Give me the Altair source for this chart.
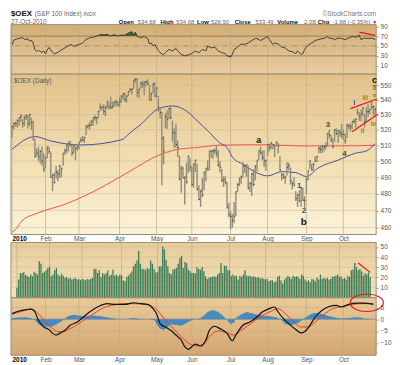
import altair as alt
import pandas as pd

W = 369
H_HEAD, H_RSI, H_PRICE, H_STRIP, H_VOL, H_MACD = 15, 50, 162, 8, 56, 58
FONT = "Liberation Sans"
LBL = "#555555"

holidays = ["2010-01-18", "2010-02-15", "2010-04-02", "2010-05-31", "2010-07-05", "2010-09-06"]
month_labels = ["2010", "Feb", "Mar", "Apr", "May", "Jun", "Jul", "Aug", "Sep", "Oct"]

high = [523, 525, 525.5, 527, 528, 530.5, 527, 529.5, 530.5, 530, 530.5, 528, 526, 514, 508, 509, 507, 509, 505,
        503, 509.5, 509, 505.5, 492, 493, 497, 494.5, 497.5, 496, 505, 508, 510.5, 512.5, 513, 511, 510.5, 509, 511,
        512, 515, 516, 515.5, 523, 523.5, 525, 526.5, 528, 530, 528.5, 532.5, 537.5, 536, 537, 536, 539, 538.5, 542, 539, 539, 540, 539,
        541.5, 543, 544.5, 545, 543, 546, 548, 548, 553.5, 555, 555, 547.5, 552, 553, 552.5, 553, 554, 550, 545, 551.5, 552,
        548.5, 542.5, 535, 532, 516, 531, 533, 534.5, 535, 526, 521, 524, 513, 503.5, 497, 496.5, 490.5, 499, 503.5, 502,
        496.5, 498.5, 501, 498.5, 485, 482.5, 489.5, 493.5, 495.5, 500.5, 506.5, 507, 507.5, 508, 510, 507, 500, 495, 490.5, 490.5, 487, 474.5,
        469.5, 468, 475, 481.5, 486.5, 489.5, 491, 499.5, 498, 498, 497, 487, 492.5, 495, 497.5, 500.5, 506.5, 509, 506.5, 507, 501,
        511, 511, 512, 511, 510, 512.5, 511.5, 503, 492.5, 492.5, 491, 499.5, 499, 496, 487.5, 490, 481.5, 480, 482, 484, 483.5, 478.5,
        489.5, 494, 500.5, 498.5, 499, 503, 503, 509, 510, 510, 510, 512, 518, 520, 517, 514.5, 520.5, 521, 520, 520, 524,
        520, 517.5, 524, 524, 524, 525.5, 527.5, 527.5, 534, 531.5, 533.5, 535, 530.5, 535, 537, 534, 539, 536, 534.68]
low = [515, 520, 522, 521.5, 522.5, 525, 521.5, 522.5, 526.5, 521, 522.5, 520, 513, 502, 503, 500, 498.5, 497, 493,
       495.5, 502, 504.5, 489.5, 481.5, 486, 489, 487.5, 489.5, 490, 497, 504, 505, 506, 509, 503, 505, 500.5, 506.5,
       507.5, 512, 512.5, 511.5, 516.5, 521, 520, 522.5, 522.5, 526, 523.5, 527.5, 532.5, 533, 530, 529, 534, 533.5, 534, 534, 535.5, 535.5, 536,
       535, 538, 540, 538.5, 538, 542.5, 545.5, 543.5, 547.5, 551.5, 542, 541, 547.5, 548, 543, 549, 550, 539.5, 539, 544.5, 542,
       541.5, 532, 527.5, 485, 498, 521, 520.5, 527, 527, 512.5, 508.5, 508.5, 502.5, 488, 480.5, 489.5, 473.5, 486, 492.5, 493.5,
       484.5, 483.5, 493, 482, 476, 472, 478, 482, 487.5, 494, 494.5, 502, 501.5, 504.5, 502.5, 496.5, 493, 487, 484, 485.5, 471, 466,
       459, 460, 462.5, 466.5, 481, 484.5, 486, 490, 492.5, 490, 482.5, 481, 478.5, 484.5, 488, 493.5, 500.5, 504, 500.5, 496.5, 494,
       503, 506, 507.5, 507.5, 502.5, 509.5, 505, 494, 488, 489, 486, 491, 494.5, 485.5, 482.5, 484.5, 475.5, 472, 475, 472, 475.5, 471,
       479.5, 488, 495, 494, 494, 499.5, 499.5, 505, 505, 505, 506, 507.5, 509.5, 514.5, 512, 508, 512, 516.5, 511.5, 515.5, 514.5,
       513.5, 511, 514.5, 520.5, 519, 520.5, 524, 521.5, 529.5, 526, 525.5, 529, 521.5, 525.5, 528.5, 530.5, 534, 529.5, 528.9]
close = [522, 524, 524, 526, 528, 529, 524, 528, 529, 524, 530, 525, 514, 503, 505, 503, 506, 500, 495,
         502, 508, 506, 490, 491, 487, 493, 492, 497, 495.5, 505, 506.5, 510, 511, 510.5, 505, 509.5, 508, 509,
         512, 513, 513.5, 515, 522, 523, 523, 525.5, 528, 528, 528, 532, 535, 535, 532, 535, 539, 535.5, 534.5, 535.5, 538.5, 538.5, 536.5,
         538.5, 542.5, 544, 540, 542.5, 545.5, 547, 547, 553.5, 554, 545, 547, 551.5, 550.5, 552, 552.5, 551, 540, 544, 550.5, 542.5,
         548, 535, 531.5, 514.5, 506.5, 528.5, 527, 534, 528, 518, 518, 510.5, 508.5, 489, 495.5, 489.5, 490, 487, 503, 496.5,
         485.5, 498, 500.5, 482.5, 476.5, 481.5, 479, 493, 495.5, 494.5, 506.5, 506, 506.5, 506.5, 505, 497.5, 496, 488, 488.5, 487, 472, 467.5,
         466.5, 464, 466.5, 481, 485.5, 489.5, 490, 497, 497, 497.5, 483.5, 486, 492, 485.5, 496.5, 500.5, 506.5, 505.5, 502, 500, 500.5,
         510.5, 508.5, 511.5, 510.5, 509.5, 512, 509.5, 494.5, 491.5, 490, 490, 496, 497, 488, 486, 485, 477, 479, 475.5, 483.5, 476, 476,
         489, 494, 500, 494.5, 498, 500, 503, 508, 507.5, 509.5, 509, 509.5, 517.5, 516.5, 513.5, 509, 520, 517.5, 519.5, 518, 517,
         517, 513, 523, 522.5, 522, 525.5, 525.5, 527, 531.5, 529, 530.5, 534.5, 525.5, 532, 532, 533.5, 535, 535.37, 533.49]
volume = [10, 18, 24.4, 24.4, 25.4, 22.5, 21.8, 20.5, 22.8, 21.2, 25.7, 24.4, 22.8, 36, 33.5, 24.4, 25.7, 27, 29.3,
          30.6, 21.2, 22.8, 27, 29.3, 22.8, 21.2, 23.8, 21.8, 19.6, 20.5, 18.6, 19.6, 18, 18.6, 19.6, 18, 18.6, 17.3,
          18.6, 18, 17.3, 18.6, 18, 18.6, 19.6, 28.3, 28.3, 24.4, 27, 20.5, 24.4, 22.8, 24.4, 27, 21.2, 22.8, 27.7, 21.8, 22.8, 21.2, 22.8,
          21.8, 17.3, 16.3, 20.5, 21.8, 23.8, 26, 31, 33.5, 36.7, 46, 33.5, 28.3, 28.3, 27, 29.3, 28.3, 36.7, 33.5, 28.3, 25,
          25, 31, 31, 50.3, 47.7, 37.4, 31, 24.4, 22.8, 27.7, 28.3, 29.3, 33.5, 39, 41.3, 29.3, 35.4, 34.1, 27.7, 26,
          24.4, 24.4, 23.8, 30.3, 28.3, 27.7, 30.3, 26, 21.2, 18.6, 19.6, 20.5, 20.5, 21.2, 20.5, 22.8, 24.4, 34.1, 24.4, 31.6, 31.6, 27,
          27, 21.8, 22.8, 21.2, 21.8, 18, 21.8, 20.5, 22.8, 27, 21.8, 21.2, 21.8, 20.5, 21.2, 20.5, 19.6, 20.5, 18.6, 19.6, 18.6,
          18, 18.6, 16.3, 17.3, 17.3, 15.4, 16.3, 20.5, 21.8, 17.3, 14.1, 18, 19.6, 21.8, 20.5, 18.6, 21.8, 20.5, 21.2, 20.5, 18.6, 22.8,
          21.8, 18, 16.3, 17.3, 15.4, 18.6, 18, 16.3, 19.6, 18, 22.8, 18.6, 19.6, 18.6, 19.6, 18, 18.6, 20.5, 21.2, 21.8, 22.8,
          20.5, 21.2, 18.6, 19.6, 18, 21.8, 20.5, 27, 27.7, 34.1, 30.3, 27, 28.3, 26, 21.8, 24.4, 22.8, 25, 20.5]

rsi_day = [0, 1, 3, 5, 6, 7, 9, 10, 11, 12, 13, 14, 15, 17, 18, 19, 20, 21, 23, 24, 26, 28, 30, 32, 34, 35, 37, 38, 40, 42,
           44, 47, 49, 51, 52, 54, 56, 58, 60, 62, 64, 65, 66, 68, 69, 70, 71, 73, 75, 77, 78, 79, 80, 81, 83, 84, 86, 87, 89, 91,
           93, 94, 96, 98, 100, 102, 104, 106, 108, 110, 111, 113, 115, 117, 119, 121, 122, 124, 125, 126, 128, 130, 132, 134, 136, 138,
           139, 141, 143, 145, 146, 148, 149, 151, 153, 155, 157, 159, 161, 162, 164, 165, 166, 168, 170, 172, 174, 176, 177, 179, 180,
           181, 183, 185, 187, 189, 191, 193, 195, 197, 198, 200, 202, 204, 206]
rsi_val = [52.7, 61.7, 64.5, 66, 67, 63, 64.5, 59.6, 61.7, 56, 42, 39, 41, 37, 40, 34, 42, 47, 37, 34, 37, 42, 46, 50.7, 53, 49, 52, 52.7, 56, 63,
           66.5, 68.6, 71.4, 73.5, 72, 73.5, 70, 72.8, 70, 72, 71.4, 74, 76, 79, 72.6, 78, 69, 67, 69, 65, 54, 56, 50, 53, 41, 36.5, 32, 36.5, 43, 40,
           45, 40, 33, 30, 32, 34.6, 40, 36.5, 43, 40, 50, 46, 47.7, 40, 36.5, 34.6, 30, 28, 33, 43, 47.7, 54, 53, 56, 61, 65,
           65, 61, 65, 69.3, 63, 53, 56, 54, 47.7, 46, 40, 38.5, 34.6, 40, 33, 34.6, 43, 51.6, 56, 61, 63, 65, 65, 69.3, 65,
           66, 62.8, 66, 65, 62.8, 66, 69.3, 67.4, 71.3, 62.8, 66, 65, 66, 63]

macd_day = [0, 4, 8, 11, 13, 15, 18, 21, 23, 25, 27, 30, 33, 37, 40, 44, 49, 54, 59, 64, 69, 73, 77, 80, 82, 84, 87, 90, 93, 96,
            98, 100, 102, 104, 107, 110, 112, 115, 118, 122, 125, 127, 131, 135, 139, 142, 146, 149, 151, 154, 157, 161, 164, 166,
            169, 172, 176, 180, 184, 187, 191, 196, 200, 205]
macd_val = [2.3, 3.4, 4, 4.2, 3, -0.5, -3.3, -4.4, -6, -6.7, -6, -4.7, -2.6, -1.2, 0.6, 3, 5.3, 6.5, 6.2, 6.2, 6.9, 6.5, 6.2, 4.4, 2.3,
            -1.9, -3.3, -4.7, -6.7, -8.8, -11.6, -12.7, -11.6, -10.5, -11.3, -8.8, -4.7, -3, -4, -6, -9.1, -6.7, -2.6, -1.2, 0.9, 3,
            4.4, 5.1, 3, 0.2, -1.9, -4.4, -5.8, -5.3, -2.6, 0.9, 3.7, 5.3, 5.8, 5.1, 6.2, 6.7, 6.7, 6.2]
sig_day = [0, 6, 11, 15, 19, 23, 26, 29, 33, 38, 42, 47, 52, 58, 64, 69, 75, 81, 84, 88, 92, 97, 101, 105, 109, 112, 117, 122,
           126, 130, 135, 140, 146, 151, 155, 160, 164, 168, 172, 177, 182, 187, 193, 199, 205]
sig_val = [2, 3.4, 4.2, 2.3, -1.2, -4, -5.3, -5.3, -4, -1.9, 0.2, 2.6, 4.8, 6, 6.5, 6.5, 6.2, 4.8, 2.3, -1.2, -4.4, -8.1, -10.5,
           -11.3, -10.2, -7.4, -4.9, -5.8, -6.7, -4.7, -2.2, 0.6, 3, 4.4, 2.3, -1.2, -3.3, -3.3, -1.2, 2, 4.4, 5.3, 6.2, 6.5, 6.5]
hist_day = [0, 4, 8, 11, 13, 15, 17, 20, 23, 25, 28, 30, 32, 35, 38, 41, 45, 49, 52, 56, 60, 64, 69, 73, 77, 81, 82, 84, 86, 88,
            90, 93, 96, 98, 101, 104, 106, 109, 111, 114, 117, 120, 122, 124, 126, 127, 130, 133, 136, 139, 142, 146, 150, 153,
            155, 158, 161, 164, 166, 169, 171, 174, 177, 180, 184, 187, 191, 195, 198, 200, 205]
hist_val = [0.5, 0.7, 0.8, 0.4, -0.5, -2, -3, -3.2, -3, -2.3, -1, 0.3, 1.3, 1.8, 1.5, 1.2, 1.5, 1.3, 1, 0.5, 0.1, 0, 0.5, 0.1, 0,
            -0.5, -2, -4, -4.6, -3.5, -2.2, -2.5, -2.8, -2, -0.8, 0, 0.2, 1.5, 3, 3.8, 3, 1.2, -0.5, -2, -1.5, 0.5, 2, 3, 2.5, 1.8,
            1.5, 1.2, 0.8, -0.5, -2, -2.6, -2, -0.8, 0.5, 1.8, 2.6, 2.5, 2, 1.2, 0.6, 0.3, 0.5, 0.8, 0.7, 0.2, 0]

ma50_day = [0, 13, 22, 39, 62, 67, 73, 83, 91, 99, 105, 112, 118, 122, 125, 131, 139, 145, 153, 161, 167, 174, 185, 195, 201, 206]
ma50_val = [507.4, 515.6, 512.8, 510.2, 513.5, 518, 523.5, 533.9, 535.8, 532.4, 526, 518.3, 511.4, 508.6, 502.6, 498, 492.6,
            490.8, 493.4, 492.8, 490.4, 495.9, 500.6, 505, 506.4, 510.9]
ma200_day = [0, 2, 6, 13, 32, 51, 67, 83, 94, 107, 116, 135, 145, 163, 185, 206]
ma200_val = [457.2, 458.9, 464.3, 467.8, 474.4, 483.9, 493.8, 503.6, 507.4, 508.8, 510, 510.3, 510.3, 509.6, 509.6, 510]

wave_text = ["a", "b", "c", "1", "2", "3", "4", "5", "v", "i", "ii", "iii", "iv"]
wave_day = [140, 165.5, 205.6, 163, 165.7, 179.2, 188.6, 205.6, 205.6, 194.2, 198.9, 200.4, 205]
wave_price = [513.5, 463, 553.8, 484.7, 469.5, 523.4, 504.3, 548, 543.4, 538, 519.3, 541.5, 523.8]
wave_color = ["#111111", "#111111", "#111111", "#1f5a66", "#1f5a66", "#5a4a1a", "#5a4a1a", "#8a6a20", "#8a6a20",
              "#2a48a8", "#a07a28", "#a07a28", "#a07a28"]
wave_size = [9, 10, 9, 8, 8, 8, 8, 6.5, 6, 7, 6.5, 6.5, 6.5]

chan_day = [192, 207, 192.9, 207.5]
chan_price = [534, 540.5, 518.8, 530.2]
chan_grp = ["up", "up", "lo", "lo"]
rsi_note_day = [197, 206]
rsi_note_val = [78, 71.5]
vol_note_day = [199, 206]
vol_note_val = [34.2, 25]
oval_day = [201.3]
oval_val = [6.9]

# ---------------------------------------------------------------- helpers
days = [d for d in pd.bdate_range("2010-01-04", "2010-10-27") if d.strftime("%Y-%m-%d") not in holidays]
N = len(days)
month_idx = [i for i in range(N) if i == 0 or days[i].month != days[i - 1].month]

xsc = alt.Scale(domain=[-0.6, N - 0.4], nice=False, zero=False)
one = pd.DataFrame({"k": [0]})
label_expr = " : ".join(f"datum.value == {i} ? '{t}'" for i, t in zip(month_idx, month_labels)) + " : ''"


def month_axis():
    return alt.Axis(values=month_idx, labelExpr=label_expr, grid=False, ticks=False, domain=False,
                    labelPadding=1, labelFontSize=6.5, labelFont=FONT, title=None, labelBaseline="top",
                    labelColor={"condition": {"test": "datum.value == 0", "value": "#000000"}, "value": LBL},
                    labelFontWeight={"condition": {"test": "datum.value == 0", "value": "bold"}, "value": "normal"},
                    labelAlign={"condition": {"test": "datum.value == 0", "value": "left"}, "value": "center"})


def yaxis(vals):
    return alt.Axis(orient="right", values=vals, grid=False, ticks=True, tickSize=2, tickColor="#999999",
                    domain=False, labelPadding=2, labelFontSize=6.5, labelFont=FONT, labelColor=LBL, title=None)


def bg(h, stops):
    grad = alt.LinearGradient(gradient="linear", x1=0, y1=0, x2=0, y2=1,
                              stops=[alt.GradientStop(offset=o, color=c) for o, c in stops])
    return alt.Chart(one).mark_rect(fill=grad, stroke="#9a8a6e", strokeWidth=1).encode(
        x=alt.value(0), x2=alt.value(W), y=alt.value(0), y2=alt.value(h))


grid_df = pd.DataFrame({"i": month_idx})


class Panel:
    """Holds one panel's x/y scales and axes; every layer gets the same axis so they merge cleanly."""

    def __init__(self, ysc, yax, xax):
        self.ysc, self.yax, self.xax = ysc, yax, xax

    def X(self, field="i"):
        return alt.X(f"{field}:Q", scale=xsc, axis=self.xax)

    def Y(self, field):
        return alt.Y(f"{field}:Q", scale=self.ysc, axis=self.yax)

    def vgrid(self):
        return alt.Chart(grid_df).mark_rule(color="#c2ab85", strokeWidth=0.7).encode(x=self.X())

    def hgrid(self, levels, **kw):
        return alt.Chart(pd.DataFrame({"v": levels})).mark_rule(**kw).encode(y=self.Y("v"))


# ---------------------------------------------------------------- header
hdr_norm = pd.DataFrame({
    "t": ["(S&P 100 Index)", "INDX", "27-Oct-2010", "534.68", "534.68", "528.90", "533.49", "2.0B", "-1.88 (-0.35%)"],
    "x": [24, 73, 0, 128, 167, 202, 247, 296, 325],
    "y": [6.5, 6.5, 14.5, 14.5, 14.5, 14.5, 14.5, 14.5, 14.5],
    "fs": [6.5, 5.5, 6.5, 6, 6, 6, 6, 6, 6]})
hdr_bold = pd.DataFrame({
    "t": ["$OEX", "Open", "High", "Low", "Close", "Volume", "Chg"],
    "x": [0, 109, 151, 188, 226, 269, 310],
    "y": [6.5, 14.5, 14.5, 14.5, 14.5, 14.5, 14.5],
    "fs": [8, 6, 6, 6, 6, 6, 6]})
hdr_right = pd.DataFrame({"t": ["©StockCharts.com"], "x": [W], "y": [6.5], "fs": [6.5]})
hdr_red = pd.DataFrame({"t": ["▼"], "x": [365], "y": [14.5], "fs": [5]})


def htext(df, color, weight="normal", align="left"):
    return alt.Chart(df).mark_text(align=align, baseline="alphabetic", font=FONT, fontWeight=weight, color=color).encode(
        x=alt.X("x:Q", scale=None, axis=None), y=alt.Y("y:Q", scale=None, axis=None),
        text="t:N", size=alt.Size("fs:Q", scale=None))


header = alt.layer(htext(hdr_norm, "#666666"), htext(hdr_bold, "#111111", "bold"),
                   htext(hdr_right, "#777777", align="right"), htext(hdr_red, "#d01010")
                   ).properties(width=W, height=H_HEAD)

# ---------------------------------------------------------------- RSI
P = Panel(alt.Scale(domain=[-7, 93], nice=False, zero=False), yaxis([10, 30, 50, 70, 90]), None)
rsi_df = pd.DataFrame({"i": rsi_day, "v": rsi_val})
rsi_note = pd.DataFrame({"i": rsi_note_day, "v": rsi_note_val})
rsi_chart = alt.layer(
    bg(H_RSI, [(0, "#d4ad76"), (1, "#e7cda1")]),
    P.vgrid(),
    P.hgrid([30, 70], color="#8c7c62", strokeWidth=0.9),
    P.hgrid([50], color="#9a8a70", strokeWidth=0.9, strokeDash=[5, 2, 1, 2]),
    alt.Chart(rsi_df).transform_calculate(up="max(datum.v, 70)").mark_area(color="#2e6a34").encode(
        x=P.X(), y=P.Y("up"), y2=alt.datum(70)),
    alt.Chart(rsi_df).transform_calculate(dn="min(datum.v, 30)").mark_area(color="#2a5aa0").encode(
        x=P.X(), y=P.Y("dn"), y2=alt.datum(30)),
    alt.Chart(rsi_df).mark_line(color="#333333", strokeWidth=0.9).encode(x=P.X(), y=P.Y("v")),
    alt.Chart(rsi_note).mark_line(color="#e8141c", strokeWidth=1.2).encode(x=P.X(), y=P.Y("v")),
).properties(width=W, height=H_RSI)

# ---------------------------------------------------------------- price
Q = Panel(alt.Scale(type="log", domain=[456, 557.6], nice=False, zero=False),
          yaxis(list(range(460, 551, 10))), month_axis())
price_df = pd.DataFrame({"i": list(range(N)), "h": high, "l": low, "c": close})
ma50_df = pd.DataFrame({"i": ma50_day, "p": ma50_val})
ma200_df = pd.DataFrame({"i": ma200_day, "p": ma200_val})
wave_df = pd.DataFrame({"i": wave_day, "p": wave_price, "t": wave_text, "col": wave_color, "fs": wave_size})
chan_df = pd.DataFrame({"i": chan_day, "p": chan_price, "g": chan_grp})

price_chart = alt.layer(
    bg(H_PRICE, [(0, "#e2c18c"), (0.5, "#f1dcae"), (1, "#fbf3d9")]),
    Q.vgrid(),
    Q.hgrid(list(range(460, 551, 10)), color="#d2bf9c", strokeWidth=0.6),
    alt.Chart(ma200_df).mark_line(color="#ee5548", strokeWidth=1, interpolate="monotone").encode(
        x=Q.X(), y=Q.Y("p")),
    alt.Chart(ma50_df).mark_line(color="#4a4aa6", strokeWidth=1, interpolate="monotone").encode(
        x=Q.X(), y=Q.Y("p")),
    alt.Chart(price_df).mark_rule(color="#8e8c78", strokeWidth=1.4).encode(
        x=Q.X(), y=Q.Y("l"), y2="h:Q"),
    alt.Chart(price_df).transform_calculate(i2="datum.i + 0.6").mark_rule(color="#3a3a3a", strokeWidth=1).encode(
        x=Q.X(), x2="i2:Q", y=Q.Y("c")),
    alt.Chart(chan_df).mark_line(color="#e8141c", strokeWidth=1.2).encode(
        x=Q.X(), y=Q.Y("p"), detail="g:N"),
    alt.Chart(wave_df).mark_text(font=FONT, fontWeight="bold").encode(
        x=Q.X(), y=Q.Y("p"), text="t:N",
        color=alt.Color("col:N", scale=None), size=alt.Size("fs:Q", scale=None)),
    alt.Chart(one).mark_text(align="left", baseline="top", font=FONT, fontSize=6.5, color=LBL).encode(
        x=alt.value(3), y=alt.value(4), text=alt.value("$OEX (Daily)")),
).properties(width=W, height=H_PRICE)

# ---------------------------------------------------------------- strip
strip = alt.Chart(one).mark_rule(opacity=0).encode(x=alt.value(0)).properties(width=W, height=H_STRIP)

# ---------------------------------------------------------------- volume
V = Panel(alt.Scale(domain=[0, 54.4], nice=False, zero=True), yaxis([10, 20, 30, 40, 50]), None)
vol_df = pd.DataFrame({"i": list(range(N)), "v": volume})
vol_note = pd.DataFrame({"i": vol_note_day, "v": vol_note_val})
vol_chart = alt.layer(
    bg(H_VOL, [(0, "#e6cb9b"), (1, "#f4e3bd")]),
    V.vgrid(),
    V.hgrid([10, 20, 30, 40, 50], color="#d2bf9c", strokeWidth=0.6),
    alt.Chart(vol_df).mark_bar(size=1.3, color="#3d7c55").encode(x=V.X(), y=V.Y("v")),
    alt.Chart(vol_note).mark_line(color="#e8141c", strokeWidth=1.2).encode(x=V.X(), y=V.Y("v")),
).properties(width=W, height=H_VOL)

# ---------------------------------------------------------------- MACD
M = Panel(alt.Scale(domain=[-15.2, 8.96], nice=False, zero=False), yaxis([-10, -5, 0, 5]), month_axis())
macd_df = pd.DataFrame({"i": macd_day, "v": macd_val})
sig_df = pd.DataFrame({"i": sig_day, "v": sig_val})
hist_df = pd.DataFrame({"i": hist_day, "v": hist_val})
oval_df = pd.DataFrame({"i": oval_day, "v": oval_val})
oval_path = "M -1 0 A 1 0.53 0 1 1 1 0 A 1 0.53 0 1 1 -1 0 Z"
macd_chart = alt.layer(
    bg(H_MACD, [(0, "#e8cb9a"), (1, "#d3a670")]),
    M.vgrid(),
    M.hgrid([-10, -5, 5], color="#c8b08a", strokeWidth=0.6),
    alt.Chart(hist_df).mark_area(color="#3d88c2", opacity=0.95).encode(x=M.X(), y=M.Y("v"), y2=alt.datum(0)),
    M.hgrid([0], color="#6a7f9a", strokeWidth=0.7),
    alt.Chart(sig_df).mark_line(color="#ee3a2c", strokeWidth=1, interpolate="monotone").encode(x=M.X(), y=M.Y("v")),
    alt.Chart(macd_df).mark_line(color="#111111", strokeWidth=1.2, interpolate="monotone").encode(x=M.X(), y=M.Y("v")),
    alt.Chart(oval_df).mark_point(shape=oval_path, size=1116, filled=False, color="#e8141c", strokeWidth=1.2,
                                  opacity=1).encode(x=M.X(), y=M.Y("v")),
).properties(width=W, height=H_MACD)

chart = alt.vconcat(header, rsi_chart, price_chart, strip, vol_chart, macd_chart, spacing=0, bounds="flush").properties(
    padding={"left": 1, "top": 0, "right": 0, "bottom": 0}
).configure_view(stroke=None)

chart.save("out.html", embed_options={"renderer": "svg", "actions": False})
